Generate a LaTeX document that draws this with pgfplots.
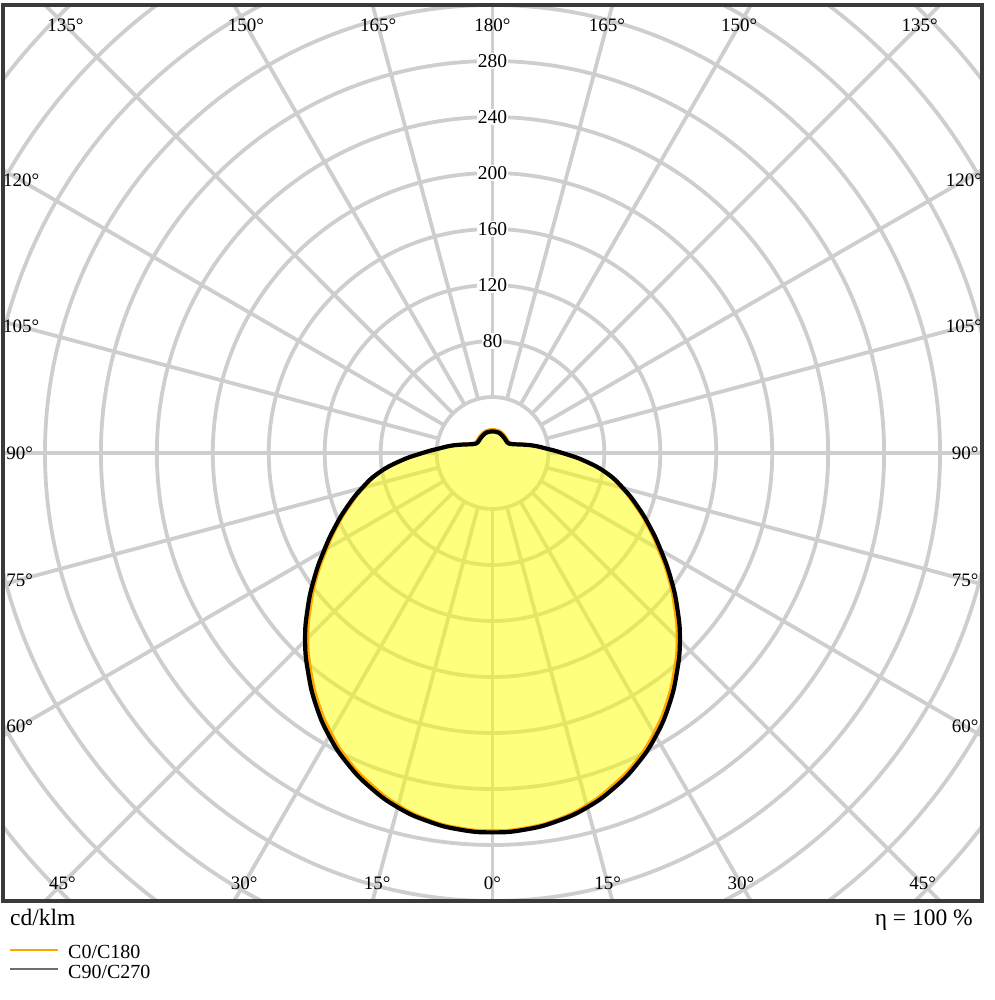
\documentclass[border=0pt]{standalone}
\usepackage{fontspec}
\setmainfont{Liberation Serif}
\usepackage{pgfplots}
\pgfplotsset{compat=1.18}
\definecolor{gridgray}{RGB}{206,206,206}
\definecolor{framegray}{RGB}{58,58,58}
\definecolor{lorange}{RGB}{255,165,0}
\definecolor{fillyellow}{RGB}{255,255,0}
\definecolor{leggray}{RGB}{110,110,110}
\newcommand{\lbl}{\fontsize{19}{22}\selectfont}
\begin{document}
\begin{tikzpicture}
\begin{axis}[
  at={(0pt,0pt)}, anchor=south west,
  scale only axis, width=979pt, height=896pt,
  xmin=-350, xmax=350, ymin=-320, ymax=320,
  ticks=none,
  axis line style={line width=4.5pt, draw=framegray},
  axis on top,
]
% polar grid
\pgfplotsinvokeforeach{40,80,...,480}{
  \draw[gridgray, line width=3.8pt] (axis cs:0,0) circle[radius=#1];
}
\pgfplotsinvokeforeach{0,15,...,345}{
  \draw[gridgray, line width=3.8pt] (axis cs:{40*cos(#1)},{40*sin(#1)}) -- (axis cs:{700*cos(#1)},{700*sin(#1)});
}
% fill (C90/C270 outline)
\addplot[draw=none, fill=fillyellow, fill opacity=0.5, data cs=polar, smooth, tension=0.8] coordinates {
(-270,15.4) (-265,15.4) (-260,15.3) (-255,15.2) (-250,15) (-245,14.6) (-240,14.2) (-235,13.8) (-230,13.5) (-225,13.2) (-220,13) (-215,13) (-210,13.5) (-205,15) (-200,18) (-195,23) (-190,30) (-185,38) (-180,50) (-175,66.5) (-170,83) (-165,96.5) (-160,110) (-155,124) (-150,139) (-145,155.5) (-140,172.5) (-135,189.5) (-130,205) (-125,220) (-120,233.5) (-115,245) (-110,254.5) (-105,262) (-100,267) (-95,270) (-90,271)
(-85,270) (-80,267) (-75,262) (-70,254.5) (-65,245) (-60,233.5) (-55,220) (-50,205) (-45,189.5) (-40,172.5) (-35,155.5) (-30,139) (-25,124) (-20,110) (-15,96.5) (-10,83) (-5,66.5) (0,50) (5,38) (10,30) (15,23) (20,18) (25,15) (30,13.5) (35,13) (40,13) (45,13.2) (50,13.5) (55,13.8) (60,14.2) (65,14.6) (70,15) (75,15.2) (80,15.3) (85,15.4) (90,15.4)
};
% C0/C180
\addplot[lorange, line width=3.5pt, line join=round, data cs=polar, smooth, tension=0.8] coordinates {
(-270,16.6) (-265,16.6) (-260,16.5) (-255,16.4) (-250,16.2) (-245,15.8) (-240,15.4) (-235,15) (-230,14.6) (-225,14.3) (-220,14) (-215,14) (-210,14.5) (-205,15.8) (-200,18.5) (-195,23.5) (-190,30) (-185,38) (-180,50) (-175,66) (-170,82.5) (-165,95.5) (-160,108.5) (-155,122.5) (-150,137) (-145,153.5) (-140,170) (-135,187) (-130,202.5) (-125,217.5) (-120,231) (-115,243) (-110,252.5) (-105,260.5) (-100,266) (-95,269) (-90,270)
(-85,269) (-80,266) (-75,260.5) (-70,252.5) (-65,243) (-60,231) (-55,217.5) (-50,202.5) (-45,187) (-40,170) (-35,153.5) (-30,137) (-25,122.5) (-20,108.5) (-15,95.5) (-10,82.5) (-5,66) (0,50) (5,38) (10,30) (15,23.5) (20,18.5) (25,15.8) (30,14.5) (35,14) (40,14) (45,14.3) (50,14.6) (55,15) (60,15.4) (65,15.8) (70,16.2) (75,16.4) (80,16.5) (85,16.6) (90,16.6)
};
% C90/C270
\addplot[black, line width=4.2pt, line join=round, data cs=polar, smooth, tension=0.8] coordinates {
(-270,15.4) (-265,15.4) (-260,15.3) (-255,15.2) (-250,15) (-245,14.6) (-240,14.2) (-235,13.8) (-230,13.5) (-225,13.2) (-220,13) (-215,13) (-210,13.5) (-205,15) (-200,18) (-195,23) (-190,30) (-185,38) (-180,50) (-175,66.5) (-170,83) (-165,96.5) (-160,110) (-155,124) (-150,139) (-145,155.5) (-140,172.5) (-135,189.5) (-130,205) (-125,220) (-120,233.5) (-115,245) (-110,254.5) (-105,262) (-100,267) (-95,270) (-90,271)
(-85,270) (-80,267) (-75,262) (-70,254.5) (-65,245) (-60,233.5) (-55,220) (-50,205) (-45,189.5) (-40,172.5) (-35,155.5) (-30,139) (-25,124) (-20,110) (-15,96.5) (-10,83) (-5,66.5) (0,50) (5,38) (10,30) (15,23) (20,18) (25,15) (30,13.5) (35,13) (40,13) (45,13.2) (50,13.5) (55,13.8) (60,14.2) (65,14.6) (70,15) (75,15.2) (80,15.3) (85,15.4) (90,15.4)
};
% radial value labels
\pgfplotsinvokeforeach{80,120,160,200,240,280}{
  \node[fill=white, inner sep=1pt, font=\fontsize{19.5}{22}\selectfont] at (axis cs:0,#1) {#1};
}
% angle labels: top
\node[font=\lbl] at (axis cs:0,305.4) {180°};
\node[font=\lbl] at (axis cs:-81.8,305.4) {165°};
\node[font=\lbl] at (axis cs:81.8,305.4) {165°};
\node[font=\lbl] at (axis cs:-176.3,305.4) {150°};
\node[font=\lbl] at (axis cs:176.3,305.4) {150°};
\node[font=\lbl] at (axis cs:-305.4,305.4) {135°};
\node[font=\lbl] at (axis cs:305.4,305.4) {135°};
% bottom
\node[font=\lbl] at (axis cs:0,-307.6) {0°};
\node[font=\lbl] at (axis cs:-82.4,-307.6) {15°};
\node[font=\lbl] at (axis cs:82.4,-307.6) {15°};
\node[font=\lbl] at (axis cs:-177.6,-307.6) {30°};
\node[font=\lbl] at (axis cs:177.6,-307.6) {30°};
\node[font=\lbl] at (axis cs:-307.6,-307.6) {45°};
\node[font=\lbl] at (axis cs:307.6,-307.6) {45°};
% sides
\node[font=\lbl] at (axis cs:-337,194.6) {120°};
\node[font=\lbl] at (axis cs:337,194.6) {120°};
\node[font=\lbl] at (axis cs:-337,90.3) {105°};
\node[font=\lbl] at (axis cs:337,90.3) {105°};
\node[font=\lbl] at (axis cs:-338,0) {90°};
\node[font=\lbl] at (axis cs:338,0) {90°};
\node[font=\lbl] at (axis cs:-338,-90.6) {75°};
\node[font=\lbl] at (axis cs:338,-90.6) {75°};
\node[font=\lbl] at (axis cs:-338,-195.1) {60°};
\node[font=\lbl] at (axis cs:338,-195.1) {60°};
\end{axis}
% texts below the frame
\node[anchor=base west, inner sep=0pt, font=\fontsize{23.5}{26}\selectfont] at (7pt,-24pt) {cd/klm};
\node[anchor=base east, inner sep=0pt, font=\fontsize{23.5}{26}\selectfont] at (970pt,-24pt) {η = 100 \%};
\draw[lorange, line width=1.5pt] (7pt,-49pt) -- (55pt,-49pt);
\node[anchor=base west, inner sep=0pt, font=\fontsize{20}{22}\selectfont] at (65pt,-57pt) {C0/C180};
\draw[leggray, line width=1.5pt] (7pt,-68pt) -- (55pt,-68pt);
\node[anchor=base west, inner sep=0pt, font=\fontsize{20}{22}\selectfont] at (65pt,-77pt) {C90/C270};
\pgfresetboundingbox
\useasboundingbox (-3pt,-99pt) rectangle (991pt,901pt);
\end{tikzpicture}
\end{document}
